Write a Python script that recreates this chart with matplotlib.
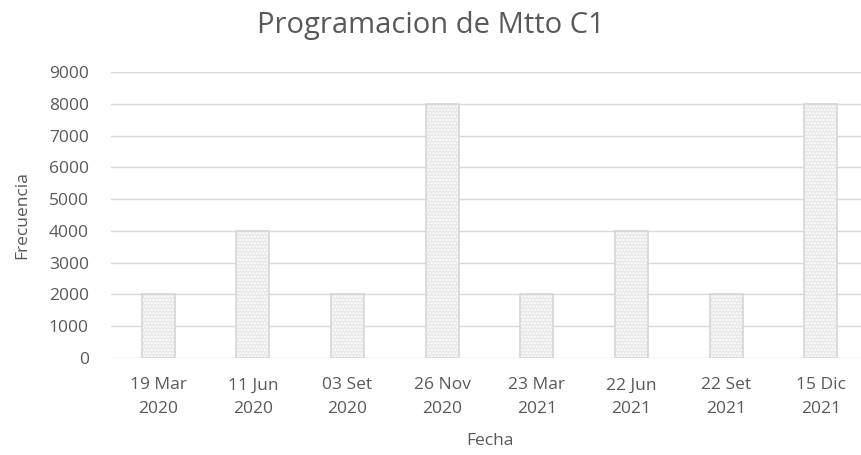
import matplotlib
matplotlib.use("Agg")
import matplotlib.pyplot as plt

fechas = ["19 Mar\n2020", "11 Jun\n2020", "03 Set\n2020", "26 Nov\n2020",
          "23 Mar\n2021", "22 Jun\n2021", "22 Set\n2021", "15 Dic\n2021"]
frecuencia = [2000, 4000, 2000, 8000, 2000, 4000, 2000, 8000]
yticks = [0, 1000, 2000, 3000, 4000, 5000, 6000, 7000, 8000, 9000]

plt.rcParams['font.family'] = ['Open Sans', 'DejaVu Sans']
txt = '#595959'

fig = plt.figure(figsize=(8.61, 4.55), dpi=100)
ax = fig.add_axes([111/861, 1-358/455, 757/861, (358-72)/455])

x = list(range(len(fechas)))
ax.bar(x, frecuencia, width=0.35, color='#e9e9e9', edgecolor='white',
       hatch='.....', linewidth=0, zorder=2)
ax.bar(x, frecuencia, width=0.35, fill=False, edgecolor='#d6d6d6',
       linewidth=1.2, zorder=3)

ax.set_xlim(-0.5, len(fechas) - 0.5)
ax.set_ylim(0, 9000)
ax.set_yticks(yticks)
ax.set_xticks(x)
ax.set_xticklabels(fechas, fontsize=12.5, color=txt, linespacing=1.65)
ax.tick_params(axis='y', labelsize=12.5, labelcolor=txt, length=0, pad=16)
ax.tick_params(axis='x', length=0, pad=14)
ax.grid(axis='y', color='#d9d9d9', linewidth=1, zorder=0)
for s in ax.spines.values():
    s.set_visible(False)
ax.set_axisbelow(True)

ax.set_ylabel('Frecuencia', fontsize=12.5, color=txt, labelpad=13)
ax.set_xlabel('Fecha', fontsize=12.5, color=txt, labelpad=11)
fig.text(0.5, 1-33/455, 'Programacion de Mtto C1', fontsize=21, color=txt,
         ha='center', va='baseline')

fig.savefig('out.png', dpi=100, facecolor='white')
